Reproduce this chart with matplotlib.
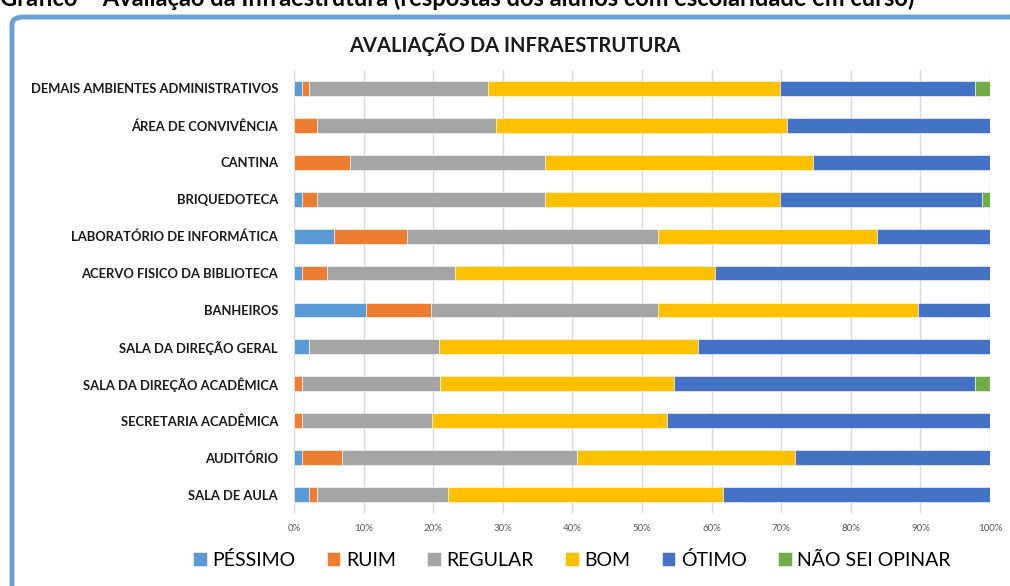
import matplotlib.pyplot as plt
from matplotlib.patches import FancyBboxPatch
import numpy as np

# categories from top to bottom
categorias = ['DEMAIS AMBIENTES ADMINISTRATIVOS', 'ÁREA DE CONVIVÊNCIA', 'CANTINA',
              'BRIQUEDOTECA', 'LABORATÓRIO DE INFORMÁTICA', 'ACERVO FISICO DA BIBLIOTECA',
              'BANHEIROS', 'SALA DA DIREÇÃO GERAL', 'SALA DA DIREÇÃO ACADÊMICA',
              'SECRETARIA ACADÊMICA', 'AUDITÓRIO', 'SALA DE AULA']
pessimo = [1.1, 0.0, 0.0, 1.1, 5.8, 1.1, 10.4, 2.2, 0.0, 0.0, 1.1, 2.2]
ruim    = [1.1, 3.3, 8.0, 2.2, 10.5, 3.6, 9.3, 0.0, 1.1, 1.1, 5.8, 1.1]
regular = [25.7, 25.7, 28.0, 32.7, 36.0, 18.5, 32.5, 18.7, 19.8, 18.7, 33.8, 18.8]
bom     = [41.9, 41.9, 38.5, 33.8, 31.5, 37.3, 37.3, 37.2, 33.7, 33.8, 31.4, 39.6]
otimo   = [28.0, 29.1, 25.5, 29.1, 16.3, 39.5, 10.4, 41.9, 43.1, 46.5, 28.0, 38.3]
nao_sei = [2.2, 0.0, 0.0, 1.1, 0.0, 0.0, 0.0, 0.0, 2.2, 0.0, 0.0, 0.0]

series = ['PÉSSIMO', 'RUIM', 'REGULAR', 'BOM', 'ÓTIMO', 'NÃO SEI OPINAR']
cores = ['#5B9BD5', '#ED7D31', '#A5A5A5', '#FFC000', '#4472C4', '#70AD47']

plt.rcParams['font.family'] = ['Lato', 'DejaVu Sans']

fig = plt.figure(figsize=(10.1, 5.86), dpi=100)

# frame around the chart (Excel-like rounded border)
frame = FancyBboxPatch((12 / 1010, -0.2), 1.2, 1 - 17 / 586 + 0.2,
                       boxstyle='round,pad=0,rounding_size=0.012',
                       transform=fig.transFigure, facecolor='white',
                       edgecolor='#6A9FD4', linewidth=3.5, zorder=0)
fig.patches.append(frame)

# caption at the very top (cut by the page in the original)
fig.text(0.0, 1 - 6 / 586, 'Gráfico – Avaliação da Infraestrutura (respostas dos alunos com escolaridade em curso)',
         fontsize=17, fontweight='bold', va='baseline', ha='left', color='black')

ax = fig.add_axes([294 / 1010, 1 - 513 / 586, 696 / 1010, 443 / 586])
ax.set_zorder(2)
ax.patch.set_alpha(0)

dados = np.array([pessimo, ruim, regular, bom, otimo, nao_sei])
totais = dados.sum(axis=0)
dados = dados / totais * 100
y = np.arange(len(categorias))[::-1]
esq = np.zeros(len(categorias))
for i in range(len(series)):
    ax.barh(y, dados[i], left=esq, height=0.4, color=cores[i], label=series[i],
            edgecolor='white', linewidth=0.4, zorder=3)
    esq += dados[i]

ax.set_xlim(0, 100)
ax.set_ylim(-0.5, len(categorias) - 0.5)
ax.set_xticks(np.arange(0, 101, 10))
ax.set_xticklabels([f'{v}%' for v in range(0, 101, 10)], fontsize=7, color='#595959')
ax.set_yticks(y)
ax.set_yticklabels(categorias, fontsize=9.4, fontweight='bold', color='#1a1a1a')
ax.grid(axis='x', color='#D9D9D9', linewidth=1, zorder=0)
ax.tick_params(length=0, pad=11.5)
ax.tick_params(axis='x', pad=8)
for s in ax.spines.values():
    s.set_visible(False)

fig.text(515 / 1010, 1 - 44 / 586, 'AVALIAÇÃO DA INFRAESTRUTURA', fontsize=14.5,
         fontweight='bold', ha='center', va='center', color='#1a1a1a')

fig.legend(loc='center', bbox_to_anchor=(572 / 1010, 1 - 560 / 586), ncol=6,
           frameon=False, fontsize=14, handlelength=0.7, handleheight=0.7,
           handletextpad=0.3, columnspacing=1.6)

fig.savefig('out.png', dpi=100)
